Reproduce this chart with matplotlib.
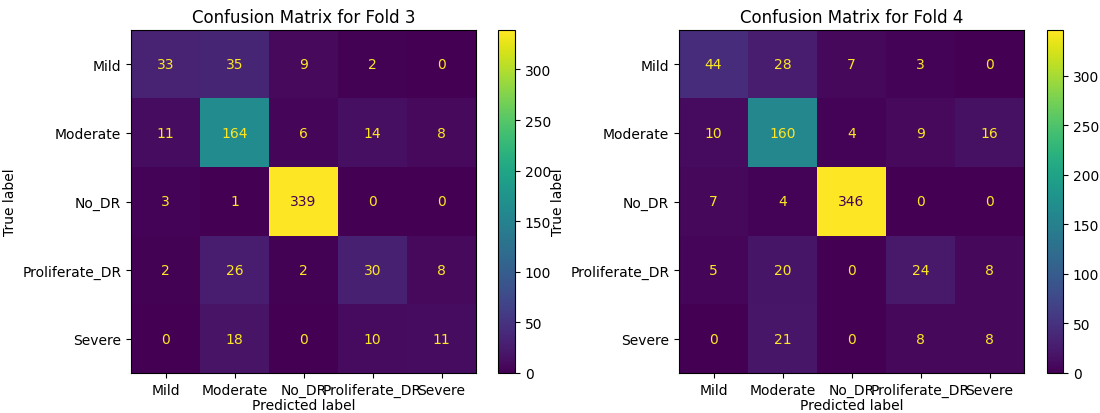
import numpy as np
import matplotlib
matplotlib.use("Agg")
import matplotlib.pyplot as plt

labels = ["Mild", "Moderate", "No_DR", "Proliferate_DR", "Severe"]

cm_fold3 = np.array([
    [33, 35, 9, 2, 0],
    [11, 164, 6, 14, 8],
    [3, 1, 339, 0, 0],
    [2, 26, 2, 30, 8],
    [0, 18, 0, 10, 11],
])

cm_fold4 = np.array([
    [44, 28, 7, 3, 0],
    [10, 160, 4, 9, 16],
    [7, 4, 346, 0, 0],
    [5, 20, 0, 24, 8],
    [0, 21, 0, 8, 8],
])

folds = [3, 4]
mats = [cm_fold3, cm_fold4]

W, H = 1100, 414
fig = plt.figure(figsize=(W / 100, H / 100), dpi=100)

# pixel boxes: (axes left, axes right, cbar left, cbar right)
boxes = [(131, 476, 498, 515), (679, 1024, 1047, 1063)]
top, bottom = 31, 374

cmap = plt.get_cmap("viridis")
for fold, cm, (l, r, cl, cr) in zip(folds, mats, boxes):
    ax = fig.add_axes([l / W, 1 - bottom / H, (r - l) / W, (bottom - top) / H])
    cax = fig.add_axes([cl / W, 1 - bottom / H, (cr - cl) / W, (bottom - top) / H])
    im = ax.imshow(cm, cmap=cmap, aspect="auto", interpolation="nearest")
    thresh = (cm.max() + cm.min()) / 2.0
    for i in range(cm.shape[0]):
        for j in range(cm.shape[1]):
            color = cmap(0.0) if cm[i, j] > thresh else cmap(1.0)
            ax.text(j, i, str(cm[i, j]), ha="center", va="center", color=color)
    ax.set_xticks(range(len(labels)))
    ax.set_xticklabels(labels)
    ax.set_yticks(range(len(labels)))
    ax.set_yticklabels(labels)
    ax.set_xlabel("Predicted label", labelpad=1)
    ax.set_ylabel("True label")
    ax.set_title("Confusion Matrix for Fold %d" % fold)
    fig.colorbar(im, cax=cax)

fig.savefig("out.png", dpi=100)
